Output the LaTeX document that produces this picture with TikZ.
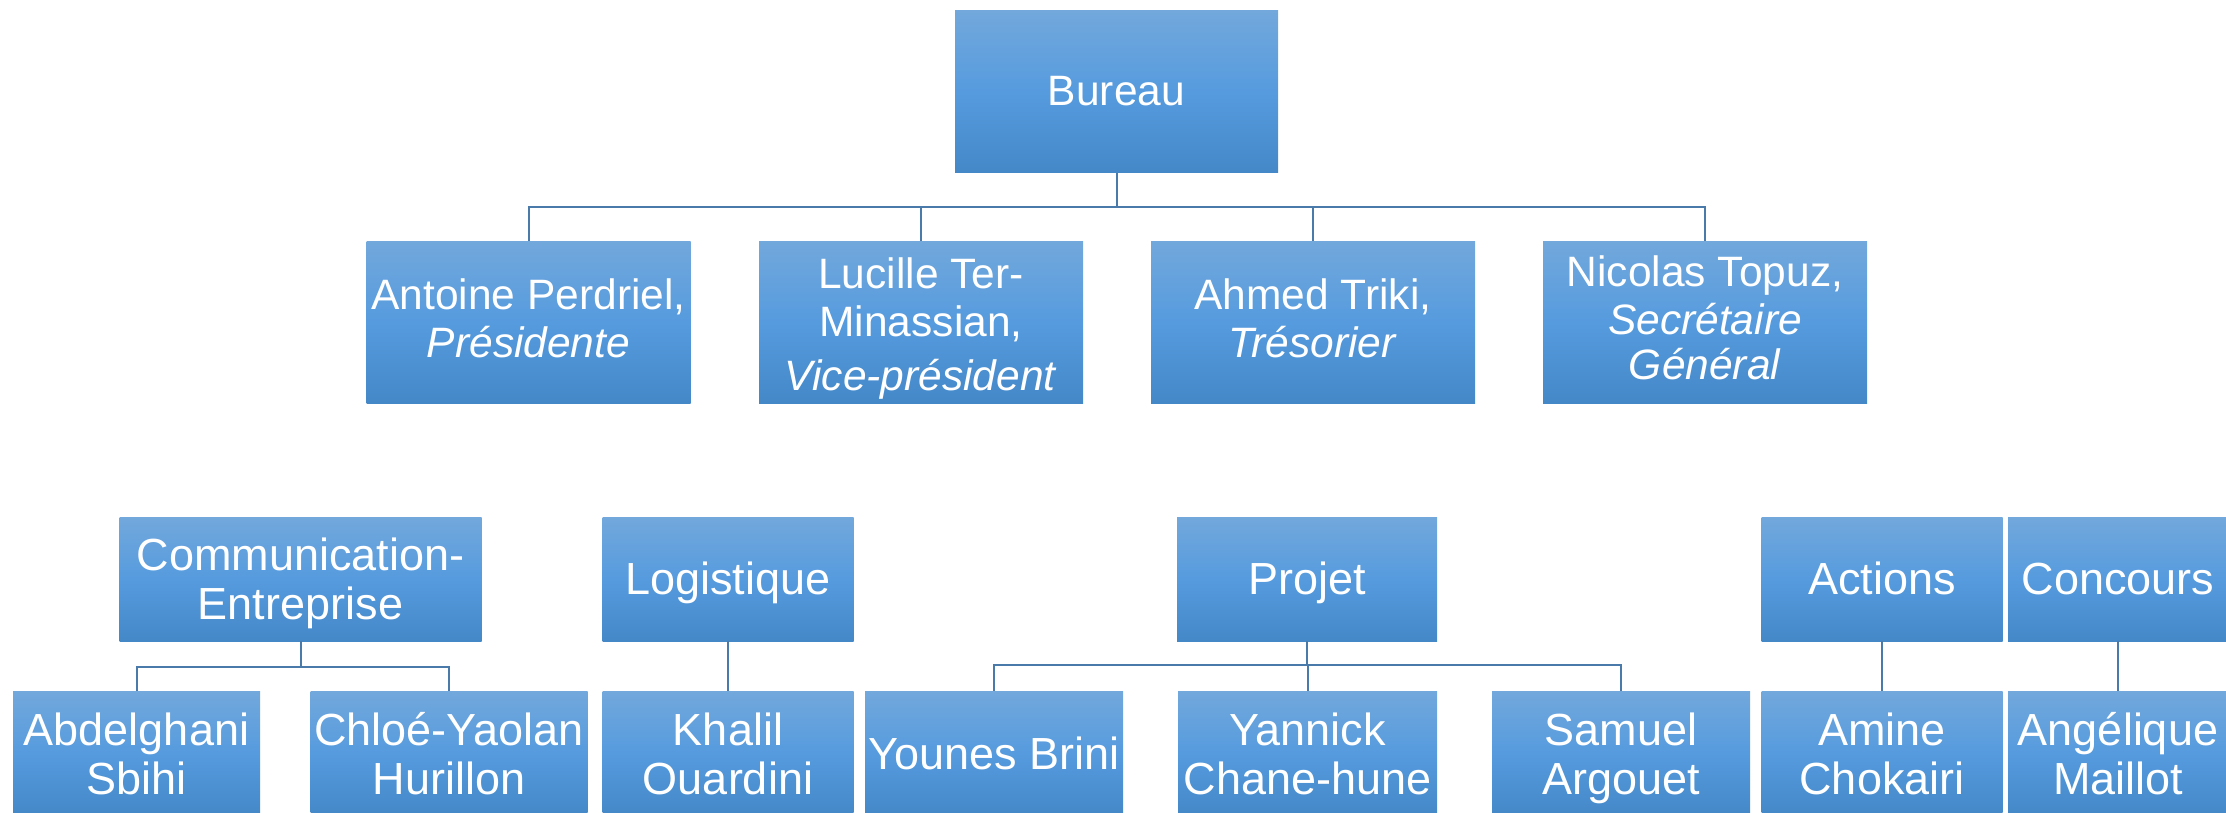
\documentclass[tikz,border=0pt]{standalone}
\usepackage{fontspec}
\setmainfont{Liberation Sans}
\definecolor{gtop}{RGB}{114,168,220}
\definecolor{gmid}{RGB}{86,155,222}
\definecolor{gbot}{RGB}{68,136,200}
\definecolor{lcol}{RGB}{74,122,170}
% invisible struts: height on the first line, depth on the last line
\newcommand\myHb{\rule{0pt}{44pt}}\newcommand\myDb{\rule[-16pt]{0pt}{16pt}}
\newcommand\myHt{\rule{0pt}{40pt}}\newcommand\myDt{\rule[-18pt]{0pt}{18pt}}
\newcommand\myHl{\rule{0pt}{47pt}}\newcommand\myDl{\rule[-12pt]{0pt}{12pt}}
\newcommand\myHm{\rule{0pt}{48pt}}\newcommand\myDm{\rule[-17pt]{0pt}{17pt}}
\newcommand\myHr{\rule{0pt}{50pt}}\newcommand\myDr{\rule[-17pt]{0pt}{17pt}}
\begin{document}
\begin{tikzpicture}[x=1pt,y=1pt,
  box/.style={rectangle, inner sep=0pt, top color=gtop, bottom color=gbot, middle color=gmid, text=white, align=center},
  bigtxt/.style={font=\fontsize{42.5}{48}\selectfont},
  smalltxt/.style={font=\fontsize{45}{49}\selectfont},
  toprow/.style={box, bigtxt, minimum width=324pt, minimum height=162pt},
  midrow/.style={box, smalltxt, minimum height=124pt},
  lowrow/.style={box, smalltxt, minimum height=124pt},
  link/.style={draw=lcol, line width=2pt}]
\useasboundingbox (0,0) rectangle (2226,-813);
\clip (0,0) rectangle (2226,-813);
% level 1
\node[toprow, minimum width=323pt] (bureau) at (1116.5,-92) {\myHb Bureau\myDb};
% level 2
\node[toprow] (antoine) at (528.5,-322) {\myHt Antoine Perdriel,\\\textit{Présidente}\myDt};
\node[toprow] (lucille) at (921,-322) {\myHl Lucille Ter-\\Minassian,\\[6pt]\textit{Vice-président}\myDl};
\node[toprow] (ahmed) at (1313,-322) {\myHt Ahmed Triki,\\\textit{Trésorier}\myDt};
\node[toprow] (nicolas) at (1705,-322) {\myHt Nicolas Topuz,\\\textit{Secrétaire}\\[-3pt]\textit{Général}\myDt};
% level 3
\node[midrow, minimum width=362pt] (comm) at (300.5,-579) {\myHm Communication-\\Entreprise\myDm};
\node[midrow, minimum width=251pt] (logis) at (728,-579) {\myHm Logistique\myDm};
\node[midrow, minimum width=260pt] (projet) at (1307,-579) {\myHm Projet\myDm};
\node[midrow, minimum width=241pt] (actions) at (1882,-579) {\myHm Actions\myDm};
\node[midrow, minimum width=220pt] (concours) at (2118,-579) {\myHm Concours\myDm};
% level 4
\node[lowrow, minimum width=247pt] (abdel) at (136.5,-753) {\myHr Abdelghani\\Sbihi\myDr};
\node[lowrow, minimum width=277pt] (chloe) at (449,-753) {\myHr Chloé-Yaolan\\Hurillon\myDr};
\node[lowrow, minimum width=251pt] (khalil) at (728,-753) {\myHr Khalil\\Ouardini\myDr};
\node[lowrow, minimum width=258pt] (younes) at (994,-753) {\myHr Younes Brini\myDr};
\node[lowrow, minimum width=259pt] (yannick) at (1307.5,-753) {\myHr Yannick\\Chane-hune\myDr};
\node[lowrow, minimum width=258pt] (samuel) at (1621,-753) {\myHr Samuel\\Argouet\myDr};
\node[lowrow, minimum width=241pt] (amine) at (1882,-753) {\myHr Amine\\Chokairi\myDr};
\node[lowrow, minimum width=220pt] (angelique) at (2118,-753) {\myHr Angélique\\Maillot\myDr};
% connectors
\foreach \c in {antoine,lucille,ahmed,nicolas}
  \draw[link] (bureau.south) -- ++(0,-34) -| (\c.north);
\foreach \c in {abdel,chloe}
  \draw[link] (comm.south) -- ++(0,-26) -| (\c.north);
\foreach \c in {younes,yannick,samuel}
  \draw[link] (projet.south) -- ++(0,-24) -| (\c.north);
\draw[link] (logis.south) -- (khalil.north);
\draw[link] (actions.south) -- (amine.north);
\draw[link] (concours.south) -- (angelique.north);
\end{tikzpicture}
\end{document}
